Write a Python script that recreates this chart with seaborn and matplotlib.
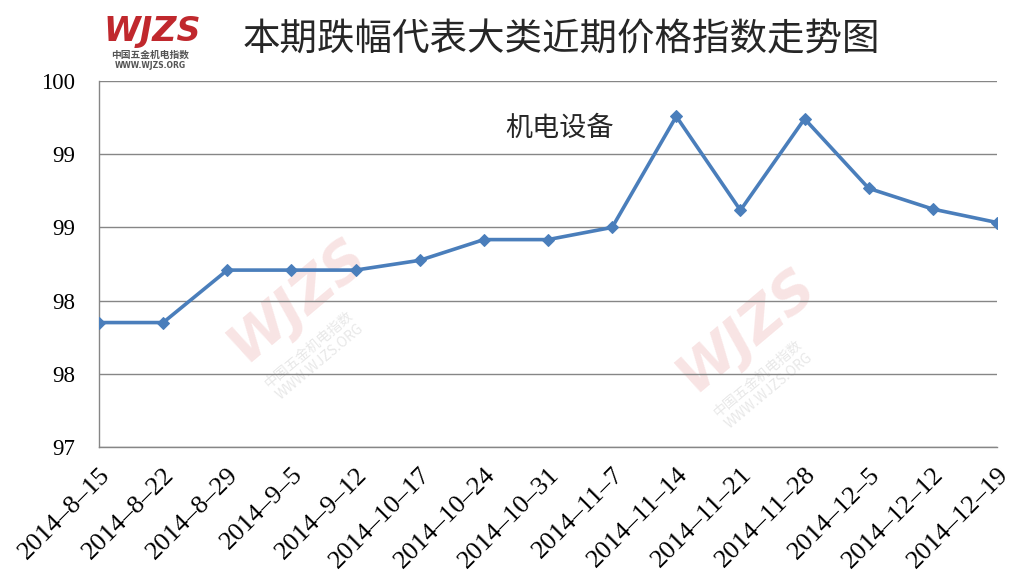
import matplotlib
matplotlib.use("Agg")
import matplotlib.pyplot as plt
import seaborn as sns
import pandas as pd
import numpy as np

dates = ["2014-8-15", "2014-8-22", "2014-8-29", "2014-9-5", "2014-9-12",
         "2014-10-17", "2014-10-24", "2014-10-31", "2014-11-7", "2014-11-14",
         "2014-11-21", "2014-11-28", "2014-12-5", "2014-12-12", "2014-12-19"]
values = [98.02, 98.02, 98.45, 98.45, 98.45, 98.53, 98.70, 98.70, 98.80, 99.71,
          98.94, 99.69, 99.12, 98.95, 98.84]
series_name = "机电设备"
title = "本期跌幅代表大类近期价格指数走势图"
y_ticks = [97.0, 97.6, 98.2, 98.8, 99.4, 100.0]

sns.set_theme(style="white")
plt.rcParams['font.family'] = ['Liberation Serif', 'Noto Sans CJK SC', 'DejaVu Sans']

fig = plt.figure(figsize=(10.33, 5.81), dpi=100)
ax = fig.add_axes([99/1033, 1-447/581, (997-99)/1033, (447-81)/581])

df = pd.DataFrame({"date": dates, "value": values, "idx": np.arange(len(dates))})

# watermarks
for (wx, wy) in [(0.22, 0.40), (0.72, 0.32)]:
    ax.text(wx, wy, "WJZS", transform=ax.transAxes, fontsize=40, fontweight='bold',
            fontstyle='italic', color='#e8a0a0', alpha=0.28, rotation=40,
            ha='center', va='center', family=['DejaVu Sans'], zorder=0)
    ax.text(wx + 0.02, wy - 0.15, "中国五金机电指数\nWWW.WJZS.ORG", transform=ax.transAxes,
            fontsize=10, color='#cccccc', alpha=0.45, rotation=40, ha='center', va='center',
            family=['Noto Sans CJK SC', 'DejaVu Sans'], zorder=0)

sns.lineplot(data=df, x="idx", y="value", ax=ax, color="#4A7EBB", linewidth=2.6,
             marker="D", markersize=6, markeredgecolor="#4A7EBB", sort=False, zorder=3)

ax.set_xlim(0, len(dates) - 1)
ax.set_ylim(97, 100)
ax.set_yticks(y_ticks)
ax.set_yticklabels([f"{v:.0f}" for v in y_ticks], fontsize=16.5)
ax.set_xticks(np.arange(len(dates)))
ax.set_xticklabels([d.replace("-", "–") for d in dates], rotation=45, ha='right',
                   rotation_mode='anchor', fontsize=19)
ax.set_xlabel("")
ax.set_ylabel("")

ax.grid(axis='y', color='#868686', linewidth=1)
ax.grid(axis='x', visible=False)
for s in ['top', 'right']:
    ax.spines[s].set_visible(False)
for s in ['left', 'bottom']:
    ax.spines[s].set_color('#868686')
    ax.spines[s].set_linewidth(1)
ax.tick_params(axis='both', which='major', direction='out', length=5, width=1,
               color='#868686', labelcolor='black')
ax.tick_params(axis='y', pad=12)
ax.tick_params(axis='x', pad=7)
ax.set_axisbelow(True)

fig.text(560/1033, 1 - 128/581, series_name, fontsize=19.5, ha='center', va='center',
         family=['Noto Sans CJK SC'])

fig.text(561/1033, 1 - 40/581, title, fontsize=27, ha='center', va='center',
         family=['Noto Sans CJK SC'])

# logo
fig.text(152/1033, 1 - 32/581, "WJZS", fontsize=24, fontweight='bold', fontstyle='italic',
         color='#c0282d', ha='center', va='center', family=['DejaVu Sans'])
fig.text(150/1033, 1 - 55/581, "中国五金机电指数", fontsize=7, fontweight='bold',
         color='#555555', ha='center', va='center', family=['Noto Sans CJK SC'])
fig.text(150/1033, 1 - 66/581, "WWW.WJZS.ORG", fontsize=5.5, fontweight='bold',
         color='#555555', ha='center', va='center', family=['DejaVu Sans'])

fig.savefig("out.png", dpi=100)
